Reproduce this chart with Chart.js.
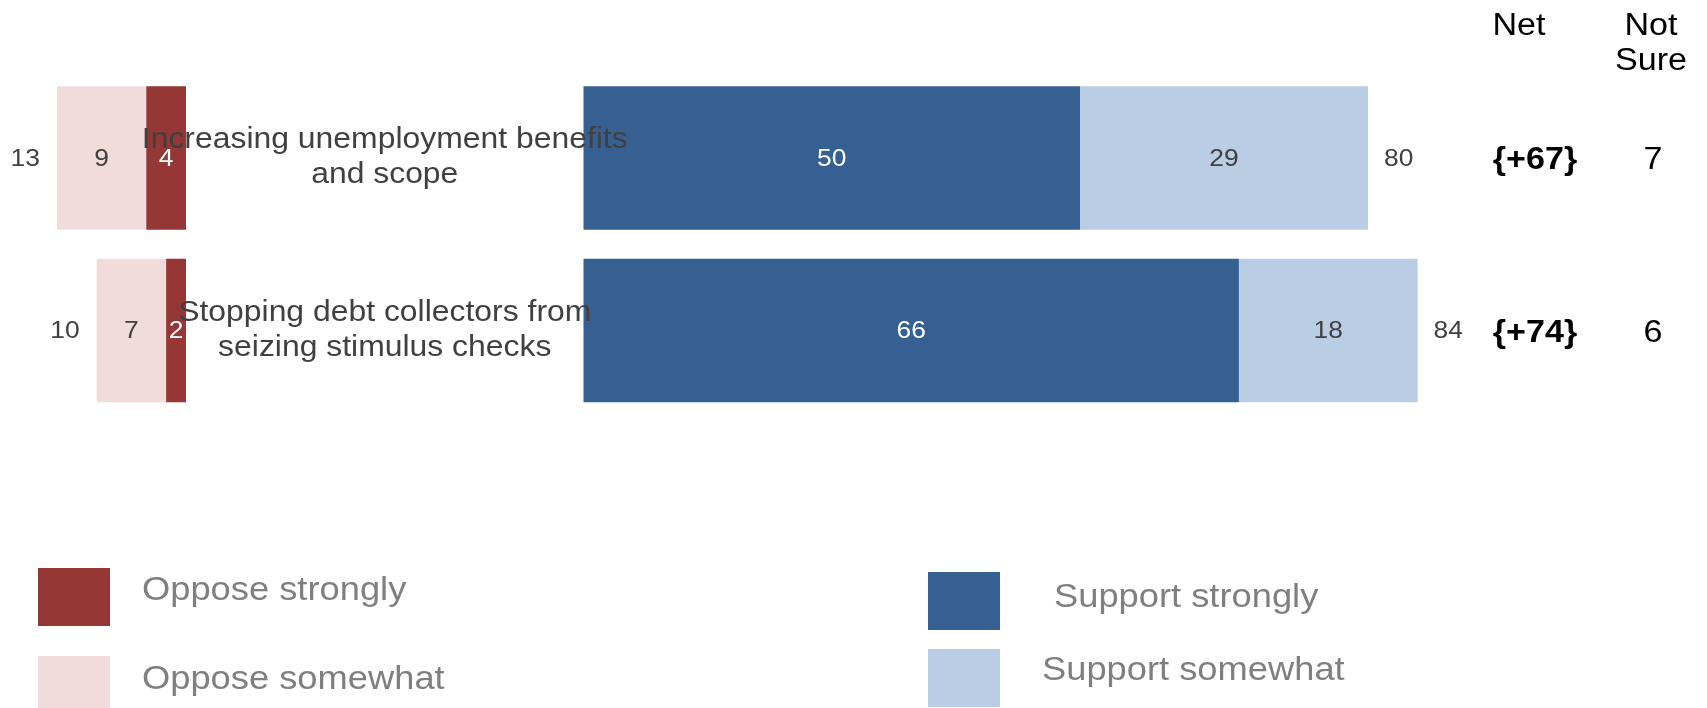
<!DOCTYPE html>
<html>
<head>
<meta charset="utf-8">
<title>Support for relief measures</title>
<script src="https://cdn.jsdelivr.net/npm/chart.js@4.4.1/dist/chart.umd.min.js"></script>
<style>
    html, body { margin: 0; padding: 0; background: #fff; }
    #wrap { position: relative; width: 1707px; height: 708px; }
</style>
</head>
<body>
<div id="wrap"><canvas id="myChart"></canvas></div>
<script>
// survey numbers, one entry per measure
const categories = [
    ['Increasing unemployment benefits', 'and scope'],
    ['Stopping debt collectors from', 'seizing stimulus checks']
];
const opposeStrongly = [4, 2];
const opposeSomewhat = [9, 7];
const supportStrongly = [50, 66];
const supportSomewhat = [29, 18];
const opposeTotal = [13, 10];
const supportTotal = [80, 84];
const netSupport = [67, 74];
const notSure = [7, 6];
const seriesNames = ['Oppose strongly', 'Oppose somewhat', 'Support strongly', 'Support somewhat'];

// layout
const CANVAS_W = 1707;
const PX_PER_POINT = 9.93;
const OPPOSE_ZERO = 186;
const SUPPORT_ZERO = 583.5;
const STRETCH = 1.1;
const FONT = '"Liberation Sans", Arial, sans-serif';
const colors = ['#953735', '#F2DCDB', '#376092', '#B9CDE5'];
const valueColors = ['#ffffff', '#404040', '#ffffff', '#404040'];
const legendSlots = [
    { x: 38, y: 568, tx: 142, ty: 591 },
    { x: 38, y: 656, tx: 142, ty: 680 },
    { x: 928, y: 572, tx: 1054, ty: 598 },
    { x: 928, y: 649, tx: 1042, ty: 671 }
];

function drawText(ctx, text, x, y, size, color, align, weight) {
    ctx.save();
    ctx.font = (weight || 'normal') + ' ' + size + 'px ' + FONT;
    ctx.fillStyle = color;
    ctx.textAlign = align || 'center';
    ctx.textBaseline = 'middle';
    ctx.translate(x, y);
    ctx.scale(STRETCH, 1);
    ctx.fillText(text, 0, 0);
    ctx.restore();
}

const overlay = {
    id: 'overlay',
    afterDatasetsDraw(chart) {
        const ctx = chart.ctx;
        const yScale = chart.scales.y;

        // numbers inside each segment
        chart.data.datasets.forEach((ds, di) => {
            chart.getDatasetMeta(di).data.forEach((bar, i) => {
                drawText(ctx, String(ds.data[i]), (bar.x + bar.base) / 2, bar.y + 1, 24, valueColors[di]);
            });
        });

        // totals at the outer ends
        chart.getDatasetMeta(1).data.forEach((bar, i) => {
            drawText(ctx, String(opposeTotal[i]), Math.min(bar.x, bar.base) - 17, bar.y + 1, 24, '#404040', 'right');
        });
        chart.getDatasetMeta(3).data.forEach((bar, i) => {
            drawText(ctx, String(supportTotal[i]), Math.max(bar.x, bar.base) + 16, bar.y + 1, 24, '#404040', 'left');
        });

        // measure names between the two sides
        const midX = (chart.scales.xo.getPixelForValue(0) + chart.scales.xs.getPixelForValue(0)) / 2;
        categories.forEach((lines, i) => {
            const cy = yScale.getPixelForValue(i);
            lines.forEach((line, li) => {
                drawText(ctx, line, midX, cy - 17.5 + li * 35, 29, '#404040');
            });
        });

        // net and not sure columns
        drawText(ctx, 'Net', 1519, 26, 31, '#000');
        drawText(ctx, 'Not', 1651, 26, 31, '#000');
        drawText(ctx, 'Sure', 1651, 61, 31, '#000');
        categories.forEach((lines, i) => {
            const cy = yScale.getPixelForValue(i) + 3;
            drawText(ctx, '{+' + netSupport[i] + '}', 1535, cy, 31, '#000', 'center', 'bold');
            drawText(ctx, String(notSure[i]), 1653, cy, 31, '#000');
        });

        // legend
        seriesNames.forEach((name, i) => {
            const s = legendSlots[i];
            ctx.fillStyle = colors[i];
            ctx.fillRect(s.x, s.y, 72, 58);
            drawText(ctx, name, s.tx, s.ty, 33, '#7f7f7f', 'left');
        });
    }
};

const ctx = document.getElementById('myChart').getContext('2d');
const myChart = new Chart(ctx, {
    type: 'bar',
    data: {
        labels: categories,
        datasets: [
            { label: seriesNames[0], data: opposeStrongly, xAxisID: 'xo', backgroundColor: colors[0] },
            { label: seriesNames[1], data: opposeSomewhat, xAxisID: 'xo', backgroundColor: colors[1] },
            { label: seriesNames[2], data: supportStrongly, xAxisID: 'xs', backgroundColor: colors[2] },
            { label: seriesNames[3], data: supportSomewhat, xAxisID: 'xs', backgroundColor: colors[3] }
        ]
    },
    options: {
        indexAxis: 'y',
        responsive: true,
        maintainAspectRatio: false,
        animation: false,
        grouped: false,
        borderWidth: 0,
        barPercentage: 1,
        categoryPercentage: 0.832,
        layout: { padding: { top: 71.65, bottom: 291.35, left: 0, right: 0 } },
        scales: {
            // oppose side runs leftwards from its own zero
            xo: {
                type: 'linear',
                display: false,
                reverse: true,
                stacked: true,
                bounds: 'data',
                min: -(CANVAS_W - OPPOSE_ZERO) / PX_PER_POINT,
                max: OPPOSE_ZERO / PX_PER_POINT
            },
            xs: {
                type: 'linear',
                display: false,
                stacked: true,
                bounds: 'data',
                min: -SUPPORT_ZERO / PX_PER_POINT,
                max: (CANVAS_W - SUPPORT_ZERO) / PX_PER_POINT
            },
            y: { type: 'category', display: false }
        },
        plugins: {
            legend: { display: false },
            tooltip: { enabled: false }
        }
    },
    plugins: [overlay]
});
</script>
</body>
</html>
